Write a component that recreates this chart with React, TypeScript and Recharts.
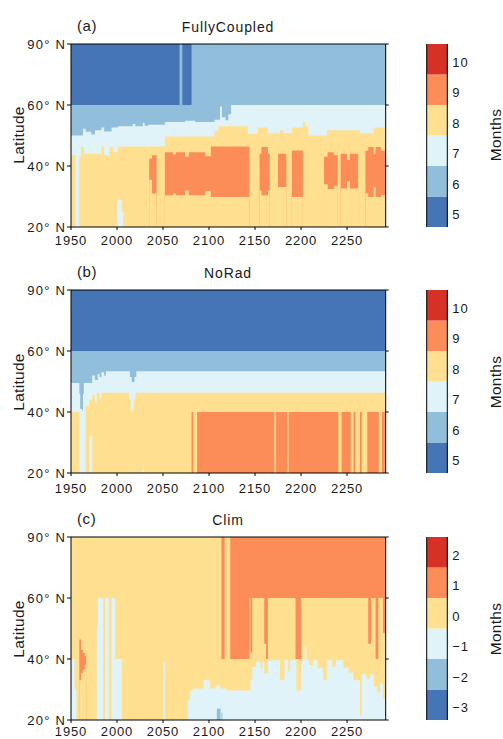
import { ComposedChart, Area, XAxis, YAxis, BarChart, Bar } from 'recharts'

type Pt = [number, number]

const X_MIN = 1950
const X_MAX = 2292
const yearTicks = [1950, 2000, 2050, 2100, 2150, 2200, 2250]
const latTicks = [20, 40, 60, 90]

const fcLevels = ['5', '6', '7', '8', '9', '10']
const climLevels = ['\u22123', '\u22122', '\u22121', '0', '1', '2']

// RdYlBu, 6 classes
const C = ['#4575b4', '#91bfdb', '#e0f3f8', '#fee090', '#fc8d59', '#d73027']

// ---- (a) FullyCoupled : upper edge of each colour region, [year, latitude]
const fcDarkTop: Pt[] = [[1950, 90]]
const fcLightTop: Pt[] = [[1950, 60], [2068, 90], [2071, 60], [2081, 90]]
const fcCyanTop: Pt[] = [
  [1950, 50], [1963, 52.2], [1966, 51.2], [1972, 50.3], [1976, 51.7], [1983, 52.6], [1986, 51.3],
  [1994, 52.6], [2001, 53], [2017, 53.8], [2020, 53], [2028, 54.2], [2030, 53.2], [2034, 53.5],
  [2052, 54.4], [2074, 54.8], [2085, 54.4], [2106, 55.2], [2112, 59.5], [2114, 56], [2118, 55],
  [2121, 57], [2124, 60],
]
const fcYellowTop: Pt[] = [
  [1950, 43.5], [1955, 43], [1961, 46.2], [1964, 44], [1983, 46.5], [1986, 43.5], [1992, 46.2],
  [1996, 44.5], [2001, 46.4], [2052, 49.7], [2106, 51.5], [2110, 53], [2142, 50.5], [2153, 52.6],
  [2164, 50.7], [2177, 51.7], [2181, 50.7], [2190, 52.6], [2202, 54.4], [2205, 53], [2208, 50],
  [2228, 51.7], [2264, 50.7], [2279, 52.6],
]
const fcOrangeTop: Pt[] = [
  [1950, 20], [2035, 42.5], [2038, 43.5], [2043, 20], [2052, 44.5], [2061, 43.8], [2064, 44.5],
  [2074, 43], [2078, 44.5], [2096, 43.2], [2102, 46.4], [2144, 20], [2155, 44], [2157, 46.2],
  [2164, 44], [2166, 20], [2175, 44], [2184, 20], [2190, 45.1], [2202, 20], [2225, 43], [2229, 44.5],
  [2236, 43.5], [2240, 20], [2243, 44], [2250, 42], [2253, 44], [2262, 20], [2270, 45], [2273, 46.2],
  [2279, 44], [2281, 46.2], [2287, 45],
]
const fcOrangeBottom: Pt[] = [
  [1950, 20], [2035, 35.5], [2038, 31], [2043, 20], [2052, 30.4], [2061, 31], [2064, 30.4],
  [2074, 32], [2078, 30.4], [2096, 31.8], [2102, 29.8], [2144, 20], [2155, 32], [2157, 30.4],
  [2164, 32], [2166, 20], [2175, 33.1], [2184, 20], [2190, 29.8], [2202, 20], [2225, 34], [2229, 32.5],
  [2236, 33.5], [2240, 20], [2243, 32.6], [2250, 35], [2253, 32.6], [2262, 20], [2270, 31], [2273, 29.8],
  [2279, 33], [2281, 29.8], [2287, 30.5],
]
const fcCyanLowTop: Pt[] = [[1950, 20], [1955, 43], [1959, 20], [2000, 29], [2005, 25], [2007, 20]]

// ---- (b) NoRad
const nrDarkTop: Pt[] = [[1950, 90]]
const nrLightTop: Pt[] = [[1950, 60]]
const nrCyanTop: Pt[] = [
  [1950, 49.5], [1959, 46], [1960, 41], [1962, 40.5], [1963, 46], [1964, 49.5], [1973, 52],
  [1976, 50.5], [1979, 52.5], [1981, 51.5], [1983, 53], [1986, 52], [1988, 53.4], [2014, 51.5],
  [2016, 49.8], [2019, 51.5], [2021, 53.4],
]
const nrYellowTop: Pt[] = [
  [1950, 40], [1966, 42], [1970, 44], [1973, 45.5], [1976, 43], [1978, 46.3], [1981, 44.5],
  [1983, 46.3], [2013, 44], [2015, 40.5], [2018, 44], [2020, 46.3],
]
const nrOrangeTop: Pt[] = [
  [1950, 20], [2081, 40], [2083, 20], [2087, 40], [2171, 20], [2172.5, 40], [2185, 20], [2186.5, 40],
  [2240.5, 20], [2244, 40], [2254, 20], [2257, 40], [2259, 20], [2264, 40], [2266, 20], [2272, 40],
  [2284.5, 20], [2288, 40], [2291, 20],
]
const nrCyanLowTop: Pt[] = [[1950, 20], [1959, 40], [1966, 20], [1970, 32], [1973, 20], [2028, 22], [2029, 20]]

// ---- (c) Clim
const clOrangeTop: Pt[] = [[1950, 90]]
const clYellowTop: Pt[] = [
  [1950, 90], [2113.5, 40], [2117, 90], [2123, 40], [2144, 60], [2145, 42], [2147, 60], [2160, 45],
  [2162, 40], [2164, 60], [2194, 40], [2200, 60], [2273, 45], [2276, 60], [2281, 40], [2284, 60],
  [2289, 48.5],
]
const clBlobTop: Pt[] = [[1950, 20], [1959, 46.4], [1961, 43], [1963, 42], [1965, 41], [1966.5, 20]]
const clBlobBottom: Pt[] = [[1950, 20], [1959, 33], [1961, 35.5], [1963, 36.5], [1965, 38], [1966.5, 20]]
const clCyanTop: Pt[] = [
  [1950, 40], [1954, 30], [1956, 20], [1978, 50], [1979, 60], [1985, 20], [1987, 60], [1991, 20],
  [1994, 60], [1998, 40], [2005, 20], [2050.5, 39], [2052, 20], [2077, 26.5], [2079.5, 29.7],
  [2083, 30.3], [2094, 33], [2101, 30.3], [2107, 31.3], [2112, 30.3], [2119, 29.7], [2145, 33],
  [2147, 37.4], [2151, 39.1], [2156, 37], [2158, 39.1], [2160, 35.3], [2164, 39.6], [2177, 33],
  [2182, 39.6], [2186, 36], [2188, 39.6], [2195, 29.7], [2200, 39.6], [2202, 45], [2203, 40],
  [2204, 44], [2206, 39.6], [2209, 38], [2213, 39.6], [2218, 37], [2224, 33], [2228, 39.6],
  [2234, 37.5], [2238, 39.6], [2246, 37], [2252, 35.5], [2257, 33], [2264, 21.5], [2266, 35],
  [2271, 33.5], [2275, 35], [2279, 31], [2283, 29], [2286, 32], [2289, 27],
]
const clLightTop: Pt[] = [[1950, 20], [2108.5, 23.7], [2112.5, 20], [2113.5, 22.5], [2114.5, 20]]

// latitude axis is spaced evenly between 20, 40, 60, 90
function latToY(lat: number) {
  for (let i = 0; i < latTicks.length - 1; i++) {
    if (lat <= latTicks[i + 1]) return i + (lat - latTicks[i]) / (latTicks[i + 1] - latTicks[i])
  }
  return latTicks.length - 1
}

function buildRows(layers: Pt[][]) {
  const xs = new Set<number>([X_MIN, X_MAX])
  layers.forEach((l) => l.forEach((p) => p[0] <= X_MAX && xs.add(p[0])))
  const sorted = [...xs].sort((a, b) => a - b)
  return sorted.map((x) => {
    const row: Record<string, number> = { year: x }
    layers.forEach((l, i) => {
      let v = l[0][1]
      for (const p of l) if (p[0] <= x) v = p[1]
      row['b' + i] = latToY(v)
    })
    return row
  })
}

const ink = '#1a1a1a'
const tickFont = { fontSize: 13, fill: ink, letterSpacing: 0.85 }

interface PanelProps {
  plotTop: number
  letter: string
  title: string
  layers: Pt[][]
  colors: string[]
  levels: string[]
  tickMargin: number
}

function Panel({ plotTop, letter, title, layers, colors, levels, tickMargin }: PanelProps) {
  const rows = buildRows(layers)
  const top = plotTop - 45
  const cbRow: Record<string, string | number> = { name: 'cb' }
  levels.forEach((_, i) => (cbRow['v' + i] = 1))
  return (
    <>
      <div style={{ position: 'absolute', left: 77, top: plotTop - 26, fontSize: 15, lineHeight: '15px', letterSpacing: 0.6, color: ink }}>
        {letter}
      </div>
      <div style={{ position: 'absolute', left: 228, top: plotTop - 24, transform: 'translateX(-50%)', fontSize: 14, lineHeight: '14px', letterSpacing: 0.9, color: ink, whiteSpace: 'nowrap' }}>
        {title}
      </div>
      <div style={{ position: 'absolute', left: 19, top: plotTop + 91.5, transform: 'translate(-50%, -50%) rotate(-90deg)', fontSize: 15.5, lineHeight: '16px', letterSpacing: 0.3, color: ink, whiteSpace: 'nowrap' }}>
        Latitude
      </div>
      <div style={{ position: 'absolute', left: 496, top: plotTop + 91.5, transform: 'translate(-50%, -50%) rotate(-90deg)', fontSize: 15.5, lineHeight: '16px', letterSpacing: 0.3, color: ink, whiteSpace: 'nowrap' }}>
        Months
      </div>
      <div style={{ position: 'absolute', left: 0, top, width: 503, height: 250 }}>
        <ComposedChart width={503} height={250} data={rows} margin={{ top: 40, right: 107.3, bottom: 0, left: 0 }}>
          {layers.map((_, i) => (
            <Area
              key={i}
              dataKey={'b' + i}
              type="stepAfter"
              stroke="none"
              fill={colors[i]}
              fillOpacity={1}
              baseValue={0}
              dot={false}
              activeDot={false}
              isAnimationActive={false}
            />
          ))}
          <XAxis
            dataKey="year"
            type="number"
            domain={[X_MIN, X_MAX]}
            allowDataOverflow
            ticks={yearTicks}
            interval={0}
            height={22}
            tickSize={3}
            tickMargin={tickMargin}
            stroke="#000"
            tick={tickFont}
          />
          <XAxis
            xAxisId="top"
            orientation="top"
            type="number"
            domain={[X_MIN, X_MAX]}
            allowDataOverflow
            ticks={yearTicks}
            interval={0}
            height={5}
            tickSize={4}
            stroke="#000"
            tickFormatter={() => ''}
          />
          <YAxis
            type="number"
            domain={[0, latTicks.length - 1]}
            allowDataOverflow
            ticks={latTicks.map(latToY)}
            interval={0}
            width={71}
            tickSize={4}
            tickMargin={1}
            stroke="#000"
            tick={{ ...tickFont, letterSpacing: 1.2 }}
            tickFormatter={(_v: number, i: number) => `${latTicks[i]}\u00b0 N`}
          />
          <YAxis
            yAxisId="right"
            orientation="right"
            type="number"
            domain={[0, latTicks.length - 1]}
            allowDataOverflow
            ticks={latTicks.map(latToY)}
            interval={0}
            width={10}
            tickSize={3}
            stroke="#000"
            tickFormatter={() => ''}
          />
        </ComposedChart>
      </div>
      <div style={{ position: 'absolute', left: 0, top, width: 503, height: 250 }}>
        <BarChart width={503} height={250} data={[cbRow]} barCategoryGap={0} margin={{ top: 45, right: 5.7, bottom: 22, left: 425.7 }}>
          {levels.map((_, i) => (
            <Bar key={i} yAxisId="right" dataKey={'v' + i} stackId="cb" fill={C[i]} isAnimationActive={false} />
          ))}
          <XAxis dataKey="name" height={0} tick={false} tickLine={false} stroke="#000" />
          <XAxis xAxisId="top" dataKey="name" orientation="top" height={0} tick={false} tickLine={false} stroke="#000" />
          <YAxis type="number" domain={[0, levels.length]} allowDataOverflow width={1} tick={false} tickLine={false} stroke="#000" />
          <YAxis
            yAxisId="right"
            orientation="right"
            type="number"
            domain={[0, levels.length]}
            allowDataOverflow
            ticks={levels.map((_, i) => i + 0.5)}
            interval={0}
            width={50}
            tickSize={0}
            tickMargin={5}
            stroke="#000"
            tick={{ ...tickFont, dy: 3 }}
            tickFormatter={(_v: number, i: number) => levels[i]}
          />
        </BarChart>
      </div>
    </>
  )
}

export default function App() {
  return (
    <div
      style={{
        position: 'fixed',
        left: 0,
        top: 0,
        width: 503,
        height: 739,
        overflow: 'hidden',
        background: '#fff',
        fontFamily: '"Liberation Sans", Arial, Helvetica, sans-serif',
      }}
    >
      <Panel
        plotTop={43.5}
        letter="(a)"
        title="FullyCoupled"
        layers={[fcDarkTop, fcLightTop, fcCyanTop, fcYellowTop, fcOrangeTop, fcOrangeBottom, fcCyanLowTop]}
        colors={[C[0], C[1], C[2], C[3], C[4], C[3], C[2]]}
        levels={fcLevels}
        tickMargin={5.5}
      />
      <Panel
        plotTop={290}
        letter="(b)"
        title="NoRad"
        layers={[nrDarkTop, nrLightTop, nrCyanTop, nrYellowTop, nrOrangeTop, nrCyanLowTop]}
        colors={[C[0], C[1], C[2], C[3], C[4], C[2]]}
        levels={fcLevels}
        tickMargin={8}
      />
      <Panel
        plotTop={537}
        letter="(c)"
        title="Clim"
        layers={[clOrangeTop, clYellowTop, clBlobTop, clBlobBottom, clCyanTop, clLightTop]}
        colors={[C[4], C[3], C[4], C[3], C[2], C[1]]}
        levels={climLevels}
        tickMargin={4}
      />
    </div>
  )
}
